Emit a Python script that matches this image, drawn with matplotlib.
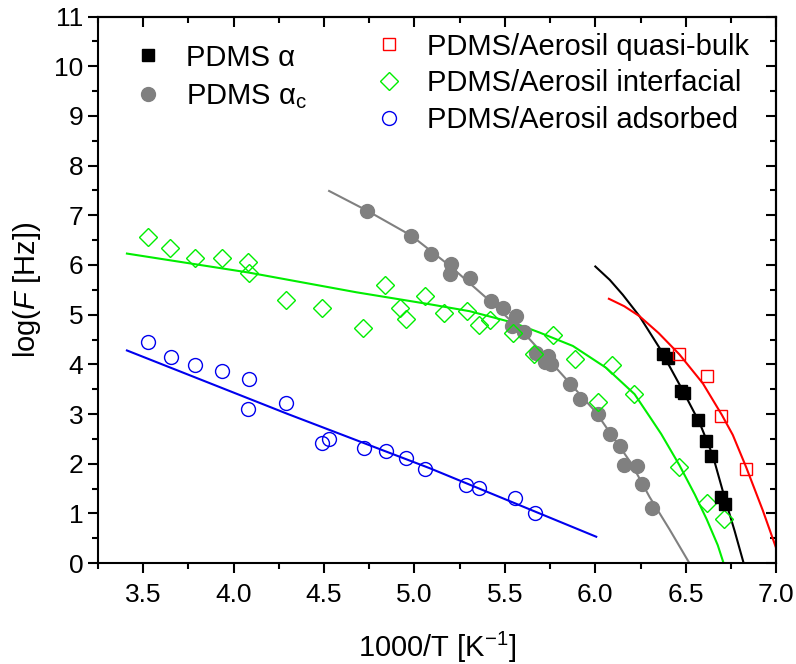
import matplotlib
matplotlib.use("Agg")
import matplotlib.pyplot as plt
from matplotlib.ticker import MultipleLocator, FormatStrFormatter

plt.rcParams['font.family'] = ['Liberation Sans', 'DejaVu Sans']
plt.rcParams['mathtext.fontset'] = 'custom'
plt.rcParams['mathtext.rm'] = 'Liberation Sans'
plt.rcParams['mathtext.it'] = 'Liberation Sans:italic'

# PDMS alpha (black squares)
x_alpha = [6.373, 6.403, 6.475, 6.489, 6.569, 6.613, 6.642, 6.694, 6.716]
y_alpha = [4.21, 4.12, 3.47, 3.43, 2.88, 2.45, 2.15, 1.34, 1.18]
# PDMS alpha_c (grey circles)
x_alphac = [4.738, 4.983, 5.094, 5.204, 5.199, 5.309, 5.425, 5.489, 5.559, 5.541,
            5.607, 5.670, 5.738, 5.720, 5.757, 5.858, 5.917, 6.014, 6.083, 6.138,
            6.161, 6.232, 6.257, 6.315]
y_alphac = [7.09, 6.59, 6.23, 6.01, 5.81, 5.73, 5.27, 5.14, 4.97, 4.77,
            4.66, 4.23, 4.17, 4.05, 4.00, 3.61, 3.30, 3.01, 2.60, 2.36,
            1.98, 1.96, 1.60, 1.11]
# PDMS/Aerosil quasi-bulk (red open squares)
x_bulk = [6.465, 6.616, 6.697, 6.834]
y_bulk = [4.21, 3.76, 2.97, 1.90]
# PDMS/Aerosil interfacial (green open diamonds)
x_inter = [3.525, 3.649, 3.786, 3.937, 4.080, 4.086, 4.287, 4.491, 4.718, 4.836,
           4.922, 4.955, 5.060, 5.162, 5.290, 5.355, 5.416, 5.545, 5.660, 5.764,
           5.885, 6.016, 6.091, 6.215, 6.465, 6.616, 6.709]
y_inter = [6.56, 6.34, 6.15, 6.15, 6.07, 5.84, 5.29, 5.14, 4.74, 5.59,
           5.14, 4.92, 5.38, 5.03, 5.07, 4.80, 4.90, 4.64, 4.21, 4.59,
           4.10, 3.25, 3.99, 3.40, 1.94, 1.21, 0.88]
# PDMS/Aerosil adsorbed (blue open circles)
x_ads = [3.528, 3.655, 3.786, 3.937, 4.086, 4.080, 4.287, 4.491, 4.525, 4.721,
         4.841, 4.955, 5.060, 5.287, 5.355, 5.554, 5.666]
y_ads = [4.455, 4.15, 3.98, 3.87, 3.71, 3.11, 3.22, 2.41, 2.49, 2.31,
         2.26, 2.12, 1.90, 1.58, 1.51, 1.30, 1.00]

# fit curves
fx_alpha = [6.0, 6.08, 6.152, 6.244, 6.355, 6.484, 6.577, 6.65, 6.714, 6.77, 6.82]
fy_alpha = [5.97, 5.70, 5.40, 4.97, 4.33, 3.47, 2.82, 2.16, 1.33, 0.65, 0.0]
fx_alphac = [4.528, 4.74, 4.983, 5.2, 5.4, 5.6, 5.8, 6.0, 6.2, 6.3, 6.41, 6.52]
fy_alphac = [7.49, 7.09, 6.59, 5.97, 5.33, 4.65, 3.86, 3.05, 2.00, 1.33, 0.68, 0.0]
fx_bulk = [6.075, 6.16, 6.244, 6.35, 6.465, 6.594, 6.70, 6.76, 6.834, 6.926, 7.0]
fy_bulk = [5.32, 5.17, 4.97, 4.63, 4.20, 3.62, 2.98, 2.58, 1.93, 1.06, 0.30]
fx_inter = [3.41, 4.08, 4.68, 5.084, 5.305, 5.545, 5.692, 5.876, 6.06, 6.217,
            6.30, 6.364, 6.465, 6.55, 6.616, 6.677, 6.709]
fy_inter = [6.23, 5.85, 5.45, 5.21, 5.07, 4.84, 4.64, 4.37, 3.93, 3.40,
            2.95, 2.60, 1.97, 1.38, 0.88, 0.36, 0.0]
fx_ads = [3.41, 4.3, 5.084, 6.005]
fy_ads = [4.28, 3.00, 1.91, 0.53]

fig = plt.figure(figsize=(7.96, 6.64), dpi=100)
ax = fig.add_axes([0.1231, 0.152, 0.852, 0.823])

ax.plot(fx_alphac, fy_alphac, color='#808080', lw=1.5, zorder=2)
ax.plot(fx_inter, fy_inter, color='#00ee00', lw=1.5, zorder=2)
ax.plot(fx_ads, fy_ads, color='#0000ee', lw=1.5, zorder=2)
ax.plot(fx_alpha, fy_alpha, color='black', lw=1.5, zorder=2)
ax.plot(fx_bulk, fy_bulk, color='red', lw=1.5, zorder=2)

h_alpha, = ax.plot(x_alpha, y_alpha, 's', color='black', ms=8.5, ls='none', zorder=4)
h_alphac, = ax.plot(x_alphac, y_alphac, 'o', color='#808080', ms=10, ls='none', zorder=3)
h_bulk, = ax.plot(x_bulk, y_bulk, 's', mfc='none', mec='red', mew=1.0, ms=8.5, ls='none', zorder=4)
h_inter, = ax.plot(x_inter, y_inter, 'D', mfc='none', mec='#00ee00', mew=1.0, ms=9.5, ls='none', zorder=3)
h_ads, = ax.plot(x_ads, y_ads, 'o', mfc='none', mec='#0000ee', mew=1.0, ms=10, ls='none', zorder=3)

ax.set_xlim(3.25, 7.0)
ax.set_ylim(0, 11)
ax.xaxis.set_major_locator(MultipleLocator(0.5))
ax.xaxis.set_minor_locator(MultipleLocator(0.25))
ax.yaxis.set_major_locator(MultipleLocator(1))
ax.yaxis.set_minor_locator(MultipleLocator(0.5))
ax.xaxis.set_major_formatter(FormatStrFormatter('%.1f'))
ax.tick_params(which='major', direction='out', length=7, width=1.5, labelsize=19)
ax.tick_params(axis='x', which='major', pad=7)
ax.tick_params(which='minor', direction='out', length=4, width=1.5)
for s in ax.spines.values():
    s.set_linewidth(1.5)

top = ax.secondary_xaxis('top')
top.xaxis.set_major_locator(MultipleLocator(0.5))
top.xaxis.set_minor_locator(MultipleLocator(0.25))
top.tick_params(which='major', direction='in', length=7, width=1.5, labeltop=False)
top.tick_params(which='minor', direction='in', length=4, width=1.5)
top.spines['top'].set_linewidth(1.5)
right = ax.secondary_yaxis('right')
right.yaxis.set_major_locator(MultipleLocator(1))
right.yaxis.set_minor_locator(MultipleLocator(0.5))
right.tick_params(which='major', direction='in', length=7, width=1.5, labelright=False)
right.tick_params(which='minor', direction='in', length=4, width=1.5)
right.spines['right'].set_linewidth(1.5)

ax.set_xlabel('1000/T [K$^{-1}$]', fontsize=21, labelpad=17)
ax.set_ylabel('log($\\mathit{F}$ [Hz])', fontsize=21, labelpad=8)

leg1 = ax.legend([h_alpha, h_alphac], ['PDMS α', 'PDMS α${}_{\\mathrm{c}}$'],
                 loc='upper left', bbox_to_anchor=(0.04, 0.972), frameon=False,
                 fontsize=21, handlelength=0.8, handletextpad=0.9, labelspacing=0.38,
                 borderaxespad=0)
ax.add_artist(leg1)
ax.legend([h_bulk, h_inter, h_ads],
          ['PDMS/Aerosil quasi-bulk', 'PDMS/Aerosil interfacial', 'PDMS/Aerosil adsorbed'],
          loc='upper left', bbox_to_anchor=(0.395, 0.992), frameon=False,
          fontsize=21, handlelength=0.8, handletextpad=0.9, labelspacing=0.3,
          borderaxespad=0)

fig.savefig('out.png', dpi=100)
